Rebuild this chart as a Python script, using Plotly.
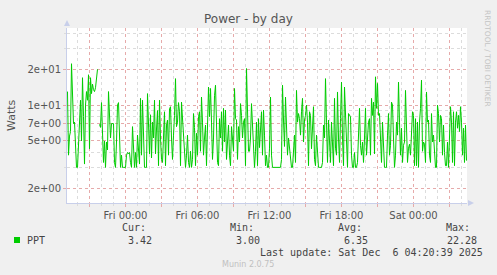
import pandas as pd
import plotly.graph_objects as go

# ---------------- data ----------------
series_name = "PPT"
sample_start = "2025-12-04 19:10"
sample_step = "5min"
power_watts = [
    # Thu evening
    13, 3.8, 5.5, 6, 22.28, 12, 7, 7.2, 4.3, 3.0, 3.0, 4.5, 7, 11, 5, 17, 8, 3.2, 10, 13,
    11, 18, 4.3, 17, 12.5, 15, 13.5, 13, 14, 17, 20, None, 6.9, 6.5, 10.5, 6.4, 3.3, 5, 3.0, 4.9,
    4.2, 13, 7.3, 5.3, 7, 7, 7, 3.3, 3.0, 4.9, 10,
    # around Fri 00:00
    10.5, 5.3, 3.0, 3.8, 3.0, 3.0, 3.0, 3.0, 3.8, 4.0, 3.9, 4.0, 3.3, 3.0, 6.6, 3.8, 3.0, 4.0, 3.0, 5.6,
    3.8, 3.2, 11.4, 3.8, 11, 6.0, 3.0, 3.0, 3.0, 12.5, 5.3, 3.9, 8.3, 3.6, 7.2, 5.3, 11, 3.9, 6.3, 9,
    3.1, 11, 5.3, 3.5, 3.3, 7.2, 8.8, 3.1, 6.8, 7.5,
    # Fri early morning
    3.8, 9.3, 9.7, 5.3, 3.5, 5.6, 8.2, 16.7, 6.6, 7.2, 10.5, 8.8, 3.1, 10.6, 7.6, 4.6, 3.9, 3.0, 3.8, 5.6,
    3.3, 3.0, 4.1, 3.0, 3.5, 8.5, 6.5, 3.1, 5.8, 3.8, 8.0, 8.8, 4.1, 11.7, 7.2, 3.8, 5.3, 6.8, 3.1, 10,
    14.2, 8, 13.8, 7.2, 3.5, 5.3, 12, 14.7, 6.4, 3.3,
    # Fri morning
    3.1, 7.7, 5.3, 8.8, 4.1, 9.4, 4.9, 9.1, 3.5, 5.3, 6.8, 3.8, 3.1, 6.6, 4.9, 4.1, 13.8, 7.7, 7.5, 3.5,
    6.6, 4.9, 10.3, 8.2, 5.3, 7.2, 7.7, 3.1, 20.3, 8.2, 4.1, 4.1, 5.3, 10.3, 6.1, 3.8, 3.0, 4.1, 7.2, 3.1,
    7.7, 4.4, 6.6, 8.8, 3.8, 9.1, 5.6, 3.1, 3.8, 3.0,
    # Fri midday
    3.0, 4.35, 11.7, 3.8, 3.0, 3.0, 3.0, 3.0, 3.0, 3.0, 3.0, 3.0, 3.0, 3.5, 14.7, 7.5, 4.5, 11.7, 5.0, 3.8,
    5.3, 4.3, 3.5, 3.0, 3.0, 3.8, 5.6, 3.3, 13.3, 7.2, 8.5, 7.7, 5.6, 8.8, 11.4, 4.9, 7.5, 8.2, 10, 7.2,
    3.1, 8.8, 8.2, 4.3, 7.2, 9.7, 3.5, 3.1, 5.6, 3.8,
    # Fri afternoon / evening
    3.0, 3.0, 3.0, 3.0, 3.3, 6.8, 5.3, 16.7, 7.2, 3.3, 7.5, 5.3, 3.3, 7.2, 5.3, 3.1, 11.4, 4.35, 3.8, 12.9,
    5.3, 3.3, 7.7, 15.6, 5.3, 3.1, 14.2, 7.2, 3.8, 3.0, 8.5, 8.2, 8.0, 3.8, 3.0, 3.0, 4.0, 3.0, 3.0, 3.3,
    5.3, 9.4, 4.6, 3.8, 4.9, 3.3, 5.3, 9.4, 3.8, 5.8,
    # Fri night
    7.2, 7.7, 3.8, 11.4, 8.2, 10.6, 3.9, 17.3, 9.4, 15.2, 8.2, 8.5, 5.3, 3.3, 7.2, 4.1, 3.0, 3.0, 3.0, 5.6,
    8.5, 3.8, 4.6, 10.6, 10, 5.3, 3.0, 3.8, 7.2, 5.6, 15.6, 7.2, 3.8, 6.4, 3.3, 4.6, 4.9, 13.3, 7.2, 3.3,
    4.35, 4.7, 3.8, 7.2, 8.8, 8.2, 3.1, 7.7, 3.1, 7.2,
    # Sat early morning
    3.0, 7.2, 9.4, 16.2, 4.1, 4.9, 4.7, 3.3, 12.9, 7.2, 7.5, 3.8, 3.3, 8.5, 4.9, 5.6, 3.8, 3.0, 3.0, 10,
    8.5, 4.9, 8.2, 7.7, 3.8, 6.8, 4.0, 3.1, 3.1, 4.9, 3.0, 5.6, 9.7, 7.2, 3.3, 8.8, 3.1, 7.2, 8.8, 6.4,
    8.2, 6.0, 9.7, 7.2, 3.8, 6.4, 3.3, 6.8, 3.42,
]
x_range = ["2025-12-04 19:07:30", "2025-12-06 04:27:30"]
x_major_start = "2025-12-04 21:00"
x_major_end = "2025-12-06 03:00"
x_label_hours = [0, 6, 12, 18]
y_major_vals = [2, 5, 7, 10, 20]
y_major_text = ["2e+00", "5e+00", "7e+00", "1e+01", "2e+01"]
y_minor_vals = [3, 4, 6, 8, 9, 30, 40]
y_range_log = [0.178, 1.648]
stat_labels = ["Cur:", "Min:", "Avg:", "Max:"]
stat_values = ["3.42", "3.00", "6.35", "22.28"]
title_text = "Power - by day"
y_title = "Watts"
last_update = "Last update: Sat Dec  6 04:20:39 2025"
footer = "Munin 2.0.75"
side_text = "RRDTOOL / TOBI OETIKER"

# ---------------- layout helpers ----------------
W, H = 497, 275
L, R, T, B = 67, 30, 28, 72
PW, PH = W - L - R, H - T - B


def px(x):
    return (x - L) / PW


def py(y):
    return (H - B - y) / PH


times = pd.date_range(sample_start, periods=len(power_watts), freq=sample_step)
major_ticks = pd.date_range(x_major_start, x_major_end, freq="3h")
major_text = [t.strftime("%a %H:%M") if t.hour in x_label_hours else "" for t in major_ticks]

GREEN = "#00CC00"
TXT = "#444444"
MAJ = "#E6AAAA"
MIN = "#DCDCDC"
AXC = "#C8CFEA"

fig = go.Figure()
fig.add_trace(go.Scatter(x=times, y=power_watts, mode="lines",
                         line=dict(color=GREEN, width=1), connectgaps=False,
                         showlegend=False, hoverinfo="skip"))

fig.update_layout(
    width=W, height=H,
    margin=dict(l=L, r=R, t=T, b=B, pad=0),
    paper_bgcolor="#F0F0F0", plot_bgcolor="#FFFFFF",
    font=dict(family="DejaVu Sans", size=10, color="#555555"),
    showlegend=False,
)
fig.update_xaxes(
    type="date", range=x_range,
    tickmode="array", tickvals=major_ticks, ticktext=major_text,
    showgrid=True, gridcolor=MAJ, griddash="dot", gridwidth=1,
    ticks="outside", ticklen=3, tickcolor=MAJ,
    showline=True, linecolor=AXC, linewidth=1,
    tickfont=dict(family="DejaVu Sans", size=10, color="#555555"),
    zeroline=False,
    minor=dict(dtick=3600000, tick0="2025-12-04 00:00", showgrid=True, gridcolor=MIN,
               griddash="dot", gridwidth=1, ticks="outside", ticklen=2, tickcolor=MIN),
)
fig.update_yaxes(
    type="log", range=y_range_log,
    tickmode="array", tickvals=y_major_vals, ticktext=y_major_text,
    showgrid=True, gridcolor=MAJ, griddash="dot", gridwidth=1,
    ticks="outside", ticklen=3, tickcolor=MAJ,
    showline=True, linecolor=AXC, linewidth=1,
    tickfont=dict(family="DejaVu Sans", size=10, color="#555555"),
    zeroline=False,
    minor=dict(tickmode="array", tickvals=y_minor_vals, showgrid=True, gridcolor=MIN,
               griddash="dot", gridwidth=1, ticks="outside", ticklen=2, tickcolor=MIN),
)

ann = []


def text(x, y, s, size=10, color=TXT, family="DejaVu Sans Mono", xanchor="left", angle=0):
    ann.append(dict(x=px(x), y=py(y), xref="paper", yref="paper", text=s, showarrow=False,
                    xanchor=xanchor, yanchor="middle", textangle=angle,
                    font=dict(family=family, size=size, color=color),
                    borderpad=0, borderwidth=0))


text(248.5, 19, title_text, size=12, color="#555555", family="DejaVu Sans", xanchor="center")
text(11, 115, y_title, size=11, color="#555555", family="DejaVu Sans", xanchor="center", angle=-90)
text(487, 58, side_text, size=7.5, color="#C4C4C4", family="DejaVu Sans", xanchor="center", angle=90)

text(27, 240, series_name)
label_right = [146, 254, 362, 470]
value_right = [152, 260, 368, 477]
for lab, val, lr, vr in zip(stat_labels, stat_values, label_right, value_right):
    text(lr, 227.5, lab, xanchor="right")
    text(vr, 240, val, xanchor="right")
text(483, 252, last_update, xanchor="right")
text(248, 264, footer, size=8, color="#C0C0C0", family="DejaVu Sans", xanchor="center")

shapes = [
    dict(type="rect", xref="paper", yref="paper", x0=px(14), x1=px(20), y0=py(243), y1=py(237),
         fillcolor=GREEN, line=dict(width=0)),
    # axis arrowheads
    dict(type="path", xref="paper", yref="paper",
         path=f"M {px(64)} {py(26)} L {px(70)} {py(26)} L {px(67)} {py(20)} Z",
         fillcolor=AXC, line=dict(width=0)),
    dict(type="path", xref="paper", yref="paper",
         path=f"M {px(468)} {py(200)} L {px(468)} {py(206)} L {px(474)} {py(203)} Z",
         fillcolor=AXC, line=dict(width=0)),
]
fig.update_layout(annotations=ann, shapes=shapes)

fig.write_html("out.html", config={"displayModeBar": False})
